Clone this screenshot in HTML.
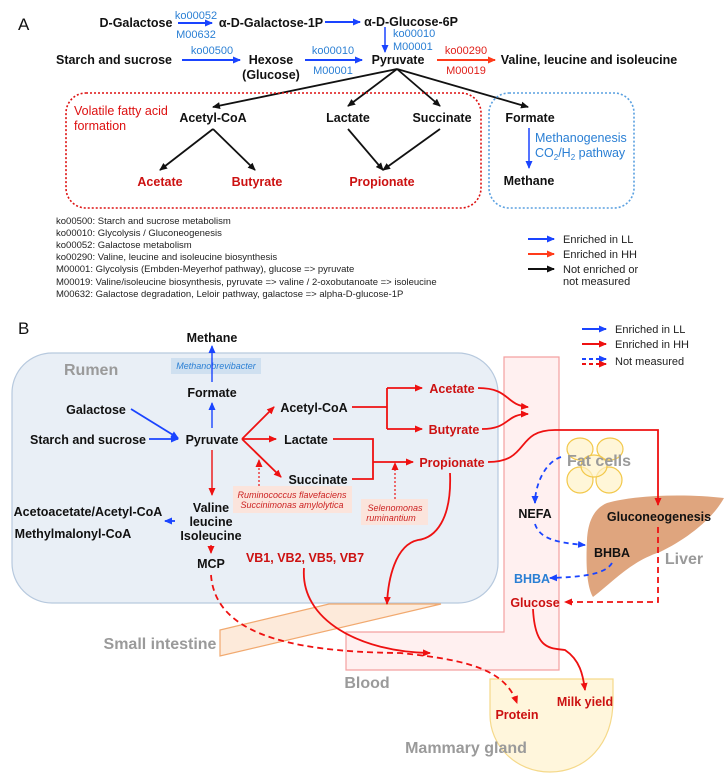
<!DOCTYPE html>
<html><head><meta charset="utf-8"><style>
body{margin:0;background:#fff}
svg{display:block;font-family:"Liberation Sans",sans-serif}
.b{font-weight:bold;font-size:12.5px;fill:#111}
.r{font-weight:bold;font-size:12.5px;fill:#cc1111}
.kb{font-size:11px;fill:#2a7fd4}
.kr{font-size:11px;fill:#e0201a}
.lg{font-size:9.5px;fill:#222}
.g{font-weight:bold;font-size:16px;fill:#9a9a9a}
.it{font-style:italic;font-size:9px}
</style></head><body>
<svg width="728" height="783" viewBox="0 0 728 783">
<defs>
<marker id="ab" markerWidth="8" markerHeight="8" refX="7" refY="4" orient="auto" markerUnits="userSpaceOnUse"><path d="M0,0.5 L8,4 L0,7.5z" fill="#1a44ff"/></marker>
<marker id="ar" markerWidth="8" markerHeight="8" refX="7" refY="4" orient="auto" markerUnits="userSpaceOnUse"><path d="M0,0.5 L8,4 L0,7.5z" fill="#ee1111"/></marker>
<marker id="ao" markerWidth="8" markerHeight="8" refX="7" refY="4" orient="auto" markerUnits="userSpaceOnUse"><path d="M0,0.5 L8,4 L0,7.5z" fill="#ff3b1a"/></marker>
<marker id="ak" markerWidth="8" markerHeight="8" refX="7" refY="4" orient="auto" markerUnits="userSpaceOnUse"><path d="M0,0.5 L8,4 L0,7.5z" fill="#111"/></marker>
</defs>
<!-- PART A -->
<text x="18" y="30" font-size="17" fill="#111">A</text>
<g fill="none" stroke-width="2">
<line x1="178" y1="23" x2="212" y2="23" stroke="#1a44ff" marker-end="url(#ab)"/>
<line x1="325" y1="22" x2="360" y2="22" stroke="#1a44ff" marker-end="url(#ab)"/>
<line x1="385" y1="27" x2="385" y2="52" stroke="#1a44ff" stroke-width="1.5" marker-end="url(#ab)"/>
<line x1="182" y1="60" x2="240" y2="60" stroke="#1a44ff" marker-end="url(#ab)"/>
<line x1="305" y1="60" x2="362" y2="60" stroke="#1a44ff" marker-end="url(#ab)"/>
<line x1="437" y1="60" x2="495" y2="60" stroke="#ff3b1a" marker-end="url(#ao)"/>
<g stroke="#111" stroke-width="1.8">
<line x1="397" y1="69" x2="213" y2="107" marker-end="url(#ak)"/>
<line x1="397" y1="69" x2="348" y2="106" marker-end="url(#ak)"/>
<line x1="397" y1="69" x2="440" y2="106" marker-end="url(#ak)"/>
<line x1="397" y1="69" x2="528" y2="107" marker-end="url(#ak)"/>
<line x1="213" y1="129" x2="160" y2="170" marker-end="url(#ak)"/>
<line x1="213" y1="129" x2="255" y2="170" marker-end="url(#ak)"/>
<line x1="348" y1="129" x2="383" y2="170" marker-end="url(#ak)"/>
<line x1="440" y1="129" x2="383" y2="170" marker-end="url(#ak)"/>
</g>
<line x1="529" y1="128" x2="529" y2="168" stroke="#1a44ff" stroke-width="1.5" marker-end="url(#ab)"/>
<rect x="66" y="93" width="415" height="115" rx="20" stroke="#dd1111" stroke-width="1.6" stroke-dasharray="2,2"/>
<rect x="489" y="93" width="145" height="115" rx="20" stroke="#5aa0e0" stroke-width="1.6" stroke-dasharray="2,2"/>
</g>
<text x="136" y="27" class="b" text-anchor="middle">D-Galactose</text>
<text x="196" y="19" class="kb" text-anchor="middle">ko00052</text>
<text x="196" y="38" class="kb" text-anchor="middle">M00632</text>
<text x="271" y="27" class="b" text-anchor="middle">α-D-Galactose-1P</text>
<text x="411" y="26" class="b" text-anchor="middle">α-D-Glucose-6P</text>
<text x="393" y="37" class="kb">ko00010</text>
<text x="393" y="50" class="kb">M00001</text>
<text x="114" y="64" class="b" text-anchor="middle">Starch and sucrose</text>
<text x="212" y="54" class="kb" text-anchor="middle">ko00500</text>
<text x="271" y="64" class="b" text-anchor="middle">Hexose</text>
<text x="271" y="79" class="b" text-anchor="middle">(Glucose)</text>
<text x="333" y="54" class="kb" text-anchor="middle">ko00010</text>
<text x="333" y="74" class="kb" text-anchor="middle">M00001</text>
<text x="398" y="64" class="b" text-anchor="middle">Pyruvate</text>
<text x="466" y="54" class="kr" text-anchor="middle">ko00290</text>
<text x="466" y="74" class="kr" text-anchor="middle">M00019</text>
<text x="589" y="64" class="b" text-anchor="middle">Valine, leucine and isoleucine</text>
<text x="74" y="115" font-size="12.5" fill="#dd1111">Volatile fatty acid</text>
<text x="74" y="130" font-size="12.5" fill="#dd1111">formation</text>
<text x="213" y="122" class="b" text-anchor="middle">Acetyl-CoA</text>
<text x="348" y="122" class="b" text-anchor="middle">Lactate</text>
<text x="442" y="122" class="b" text-anchor="middle">Succinate</text>
<text x="530" y="122" class="b" text-anchor="middle">Formate</text>
<text x="160" y="186" class="r" text-anchor="middle">Acetate</text>
<text x="257" y="186" class="r" text-anchor="middle">Butyrate</text>
<text x="382" y="186" class="r" text-anchor="middle">Propionate</text>
<text x="535" y="142" font-size="12.5" fill="#2a7fd4">Methanogenesis</text>
<text x="535" y="157" font-size="12.5" fill="#2a7fd4">CO<tspan font-size="8" dy="3">2</tspan><tspan dy="-3">/H</tspan><tspan font-size="8" dy="3">2</tspan><tspan dy="-3"> pathway</tspan></text>
<text x="529" y="185" class="b" text-anchor="middle">Methane</text>
<g class="lg">
<text x="56" y="224">ko00500: Starch and sucrose metabolism</text>
<text x="56" y="236">ko00010: Glycolysis / Gluconeogenesis</text>
<text x="56" y="248">ko00052: Galactose metabolism</text>
<text x="56" y="260">ko00290: Valine, leucine and isoleucine biosynthesis</text>
<text x="56" y="272">M00001: Glycolysis (Embden-Meyerhof pathway), glucose =&gt; pyruvate</text>
<text x="56" y="285">M00019: Valine/isoleucine biosynthesis, pyruvate =&gt; valine / 2-oxobutanoate =&gt; isoleucine</text>
<text x="56" y="297">M00632: Galactose degradation, Leloir pathway, galactose =&gt; alpha-D-glucose-1P</text>
</g>
<line x1="528" y1="239" x2="554" y2="239" stroke="#1a44ff" stroke-width="2" marker-end="url(#ab)"/>
<line x1="528" y1="254" x2="554" y2="254" stroke="#ff3b1a" stroke-width="2" marker-end="url(#ao)"/>
<line x1="528" y1="269" x2="554" y2="269" stroke="#111" stroke-width="2" marker-end="url(#ak)"/>
<g font-size="11" fill="#222"><text x="563" y="243">Enriched in LL</text><text x="563" y="258">Enriched in HH</text><text x="563" y="273">Not enriched or</text><text x="563" y="285">not measured</text></g>

<!-- PART B -->
<text x="18" y="334" font-size="17" fill="#111">B</text>
<line x1="582" y1="329" x2="606" y2="329" stroke="#1a44ff" stroke-width="2" marker-end="url(#ab)"/>
<line x1="582" y1="344" x2="606" y2="344" stroke="#ee1111" stroke-width="2" marker-end="url(#ar)"/>
<line x1="582" y1="359" x2="606" y2="359" stroke="#1a44ff" stroke-width="2" stroke-dasharray="4,3" marker-end="url(#ab)"/>
<line x1="582" y1="364" x2="606" y2="364" stroke="#ee1111" stroke-width="2" stroke-dasharray="4,3" marker-end="url(#ar)"/>
<g font-size="11" fill="#222"><text x="615" y="333">Enriched in LL</text><text x="615" y="348">Enriched in HH</text><text x="615" y="365">Not measured</text></g>

<rect x="12" y="353" width="486" height="250" rx="40" fill="#e9eff6" stroke="#b7c9de" stroke-width="1.2"/>
<polygon points="504,357 559,357 559,670 346,670 346,632 504,632" fill="#fff0f0" stroke="#f4a0a0" stroke-width="1.2"/>
<polygon points="220,630 329,604 441,604 220,656" fill="#fde8d6" stroke="#f0a060" stroke-width="1.2" opacity="0.9"/>
<path d="M490,679 L613,679 L613,700 C613,745 585,772 550,772 C515,772 490,745 490,715 Z" fill="#fff6dc" stroke="#f5d98a" stroke-width="1.2"/>
<path d="M607,503 C640,494 690,494 724,498 C712,520 685,540 660,552 C630,562 615,580 593,597 C586,585 586,560 587,540 C588,520 595,508 607,503 Z" fill="#dfa57e"/>
<g fill="#fff2c8" fill-opacity="0.7" stroke="#f2c84a" stroke-width="1.2">
<ellipse cx="580" cy="449" rx="13" ry="11"/><ellipse cx="610" cy="449" rx="13" ry="11"/>
<ellipse cx="580" cy="480" rx="13" ry="13"/><ellipse cx="609" cy="480" rx="13" ry="13"/>
<ellipse cx="594" cy="466" rx="13" ry="11"/>
</g>
<text x="64" y="375" class="g" font-size="17">Rumen</text>
<text x="160" y="649" class="g" text-anchor="middle">Small intestine</text>
<text x="367" y="688" class="g" text-anchor="middle">Blood</text>
<text x="466" y="753" class="g" text-anchor="middle">Mammary gland</text>
<text x="599" y="466" class="g" font-size="17" text-anchor="middle">Fat cells</text>
<text x="684" y="564" class="g" font-size="17" text-anchor="middle">Liver</text>

<rect x="171" y="358" width="90" height="16" fill="#cfe0f0"/>
<text x="216" y="369" class="it" fill="#2a7fd4" text-anchor="middle">Methanobrevibacter</text>
<rect x="233" y="486" width="119" height="27" fill="#fbe4dc"/>
<text x="292" y="498" class="it" fill="#cc2222" text-anchor="middle">Ruminococcus flavefaciens</text>
<text x="292" y="508" class="it" fill="#cc2222" text-anchor="middle">Succinimonas amylolytica</text>
<rect x="361" y="499" width="67" height="26" fill="#fbe4dc"/>
<text x="395" y="511" class="it" fill="#cc2222" text-anchor="middle">Selenomonas</text>
<text x="391" y="521" class="it" fill="#cc2222" text-anchor="middle">ruminantium</text>

<g fill="none" stroke-width="1.8">
<line x1="212" y1="382" x2="212" y2="346" stroke="#1a44ff" stroke-width="1.4" marker-end="url(#ab)"/>
<line x1="212" y1="428" x2="212" y2="403" stroke="#1a44ff" stroke-width="1.4" marker-end="url(#ab)"/>
<line x1="131" y1="409" x2="178" y2="438" stroke="#1a44ff" marker-end="url(#ab)"/>
<line x1="149" y1="439" x2="178" y2="439" stroke="#1a44ff" marker-end="url(#ab)"/>
<line x1="175" y1="521" x2="165" y2="521" stroke="#1a44ff" marker-end="url(#ab)"/>
<g stroke="#ee1111">
<line x1="242" y1="439" x2="274" y2="407" marker-end="url(#ar)"/>
<line x1="242" y1="439" x2="276" y2="439" marker-end="url(#ar)"/>
<line x1="242" y1="439" x2="281" y2="477" marker-end="url(#ar)"/>
<polyline points="352,407 387,407"/><line x1="387" y1="388" x2="387" y2="429"/>
<line x1="387" y1="388" x2="422" y2="388" marker-end="url(#ar)"/>
<line x1="387" y1="429" x2="422" y2="429" marker-end="url(#ar)"/>
<polyline points="333,439 373,439 373,479 352,479"/>
<line x1="373" y1="462" x2="413" y2="462" marker-end="url(#ar)"/>
<line x1="212" y1="450" x2="212" y2="495" stroke-width="1.4" marker-end="url(#ar)"/>
<line x1="211" y1="545" x2="211" y2="553" stroke-width="1.4" marker-end="url(#ar)"/>
<line x1="259" y1="486" x2="259" y2="460" stroke-width="1.2" stroke-dasharray="2,2" marker-end="url(#ar)"/>
<line x1="395" y1="499" x2="395" y2="463" stroke-width="1.2" stroke-dasharray="2,2" marker-end="url(#ar)"/>
<path d="M478,388 C510,388 505,405 528,407" marker-end="url(#ar)"/>
<path d="M482,429 C510,429 505,414 528,414" marker-end="url(#ar)"/>
<path d="M488,462 C530,462 515,430 555,430 L658,430 L658,505" marker-end="url(#ar)"/>
<path d="M450,473 C452,520 435,538 418,540 C395,545 388,580 387,604" marker-end="url(#ar)"/>
<path d="M304,568 C300,620 360,652 430,653" marker-end="url(#ar)"/>
<path d="M211,575 C215,630 280,652 400,653 C470,660 505,670 517,703" stroke-dasharray="6,4" marker-end="url(#ar)"/>
<path d="M533,609 C535,650 550,648 565,650 C580,660 583,675 585,690" marker-end="url(#ar)"/>
<polyline points="658,527 658,602 565,602" stroke-dasharray="6,4" marker-end="url(#ar)"/>
</g>
<g stroke="#1a44ff" stroke-dasharray="5,4">
<path d="M561,457 C545,462 535,485 535,503" marker-end="url(#ab)"/>
<path d="M535,524 C540,540 560,543 585,545" marker-end="url(#ab)"/>
<path d="M612,563 C605,575 580,577 550,578" marker-end="url(#ab)"/>
</g>
</g>

<text x="212" y="342" class="b" text-anchor="middle">Methane</text>
<text x="212" y="397" class="b" text-anchor="middle">Formate</text>
<text x="96" y="414" class="b" text-anchor="middle">Galactose</text>
<text x="88" y="444" class="b" text-anchor="middle">Starch and sucrose</text>
<text x="212" y="444" class="b" text-anchor="middle">Pyruvate</text>
<text x="314" y="412" class="b" text-anchor="middle">Acetyl-CoA</text>
<text x="306" y="444" class="b" text-anchor="middle">Lactate</text>
<text x="318" y="484" class="b" text-anchor="middle">Succinate</text>
<text x="452" y="393" class="r" text-anchor="middle">Acetate</text>
<text x="454" y="434" class="r" text-anchor="middle">Butyrate</text>
<text x="452" y="467" class="r" text-anchor="middle">Propionate</text>
<text x="211" y="512" class="b" text-anchor="middle">Valine</text>
<text x="211" y="526" class="b" text-anchor="middle">leucine</text>
<text x="211" y="540" class="b" text-anchor="middle">Isoleucine</text>
<text x="88" y="516" class="b" text-anchor="middle">Acetoacetate/Acetyl-CoA</text>
<text x="73" y="538" class="b" text-anchor="middle">Methylmalonyl-CoA</text>
<text x="211" y="568" class="b" text-anchor="middle">MCP</text>
<text x="305" y="562" class="r" text-anchor="middle">VB1, VB2, VB5, VB7</text>
<text x="535" y="518" class="b" text-anchor="middle">NEFA</text>
<text x="659" y="521" class="b" text-anchor="middle">Gluconeogenesis</text>
<text x="612" y="557" class="b" text-anchor="middle">BHBA</text>
<text x="532" y="583" font-weight="bold" font-size="12.5" fill="#2a7fd4" text-anchor="middle">BHBA</text>
<text x="535" y="607" class="r" text-anchor="middle">Glucose</text>
<text x="517" y="719" class="r" text-anchor="middle">Protein</text>
<text x="585" y="706" class="r" text-anchor="middle">Milk yield</text>
</svg>
</body></html>
